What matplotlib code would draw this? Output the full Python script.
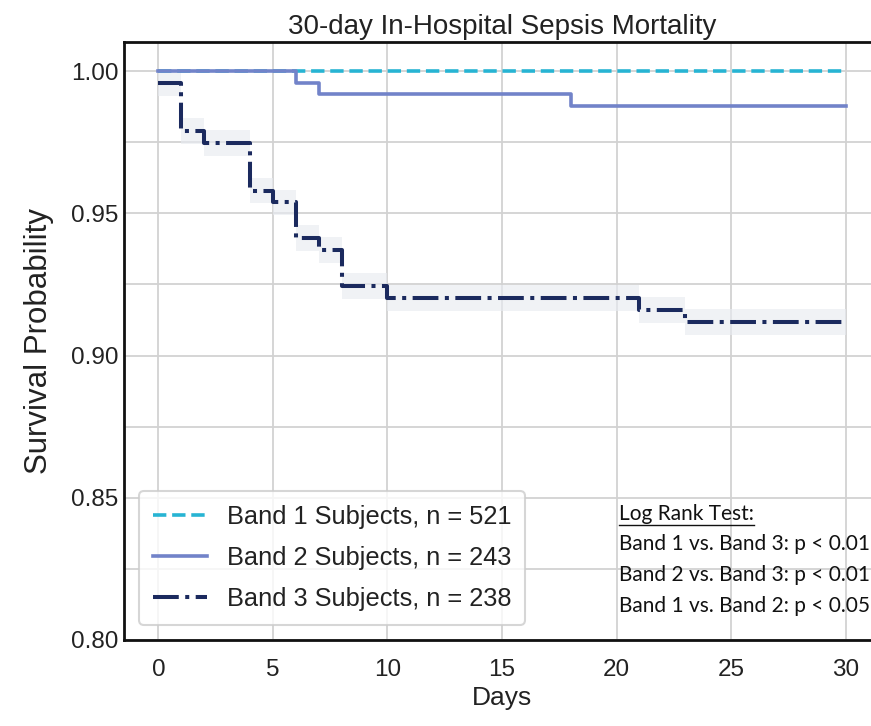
import numpy as np
import matplotlib.pyplot as plt
from matplotlib.ticker import MultipleLocator
from matplotlib.lines import Line2D

# Kaplan-Meier step values (time of drop, survival after drop)
band1_days = [0, 30]
band1_surv = [1.0, 1.0]

band2_days = [0, 6, 7, 18, 30]
band2_surv = [1.0, 0.9959, 0.9918, 0.9877, 0.9877]

band3_days = [0, 1, 2, 4, 5, 6, 7, 8, 10, 21, 23, 30]
band3_surv = [0.9958, 0.9790, 0.9748, 0.9580, 0.9538, 0.9412,
              0.9370, 0.9244, 0.9202, 0.9160, 0.9118, 0.9118]
band3_ci = 0.0045

labels = ['Band 1 Subjects, n = 521',
          'Band 2 Subjects, n = 243',
          'Band 3 Subjects, n = 238']
colors = ['#27b4d3', '#7283c9', '#1b2a5e']

logrank_title = 'Log Rank Test:'
logrank_lines = ['Band 1 vs. Band 3: p < 0.01',
                 'Band 2 vs. Band 3: p < 0.01',
                 'Band 1 vs. Band 2: p < 0.05']

plt.rcParams['font.family'] = ['Liberation Sans', 'DejaVu Sans']

fig = plt.figure(figsize=(8.71, 7.26), dpi=100)
ax = fig.add_axes([124/871, 1 - 640/726, (880 - 124)/871, (640 - 42)/726])

d3 = np.array(band3_days)
s3 = np.array(band3_surv)
ax.fill_between(d3, s3 - band3_ci, s3 + band3_ci, step='post',
                color='#e8ebf1', alpha=0.65, lw=0, zorder=1)

ax.step(band1_days, band1_surv, where='post', color=colors[0], lw=2.6,
        ls='--', label=labels[0], zorder=3)
ax.step(band2_days, band2_surv, where='post', color=colors[1], lw=2.6,
        ls='-', label=labels[1], zorder=4)
ax.step(band3_days, band3_surv, where='post', color=colors[2], lw=2.9,
        ls='-.', label=labels[2], zorder=5)

ax.set_xlim(-1.5, 31.5)
ax.set_ylim(0.80, 1.0102)
ax.set_xticks([0, 5, 10, 15, 20, 25, 30])
ax.set_yticks([0.80, 0.85, 0.90, 0.95, 1.00])
ax.yaxis.set_minor_locator(MultipleLocator(0.025))
ax.set_yticklabels(['0.80', '0.85', '0.90', '0.95', '1.00'])
ax.tick_params(axis='both', which='both', length=0, labelsize=17.5,
               labelcolor='#222222')
ax.tick_params(axis='x', pad=14)
ax.tick_params(axis='y', pad=4)

ax.grid(True, which='major', color='#d2d2d2', lw=1.3, zorder=0)
ax.grid(True, which='minor', axis='y', color='#d2d2d2', lw=1.3, zorder=0)
ax.set_axisbelow(True)
ax.spines['right'].set_visible(False)
for side in ['left', 'bottom', 'top']:
    ax.spines[side].set_color('#111111')
    ax.spines[side].set_linewidth(2.0)

ax.set_title('30-day In-Hospital Sepsis Mortality', fontsize=20,
             color='#222222', pad=6)
ax.set_xlabel('Days', fontsize=19, color='#222222', labelpad=3)
ax.set_ylabel('Survival Probability', fontsize=22.5, color='#222222',
              labelpad=12)

leg = ax.legend(loc='lower left', bbox_to_anchor=(0.0, 0.0),
                fontsize=18.3, frameon=True, fancybox=True,
                handlelength=2.1, handletextpad=0.8, borderpad=0.55,
                labelspacing=0.66, borderaxespad=0.6)
leg.get_frame().set_edgecolor('#cccccc')
leg.get_frame().set_linewidth(1.5)
for t in leg.get_texts():
    t.set_color('#222222')

# log-rank test results, underlined header
note_font = ['Lato', 'DejaVu Sans']
hdr = fig.text(619/871, 1 - 514/726, logrank_title, fontsize=15,
               family=note_font, va='center', ha='left', color='#111111')
for i, line in enumerate(logrank_lines):
    fig.text(619/871, 1 - (544 + 31 * i)/726, line, fontsize=15,
             family=note_font, va='center', ha='left', color='#111111')

fig.canvas.draw()
bb = hdr.get_window_extent().transformed(fig.transFigure.inverted())
fig.add_artist(Line2D([bb.x0, bb.x1], [bb.y0 - 0.002, bb.y0 - 0.002],
                      color='#111111', lw=1.0, transform=fig.transFigure))

fig.savefig('out.png', dpi=100)
